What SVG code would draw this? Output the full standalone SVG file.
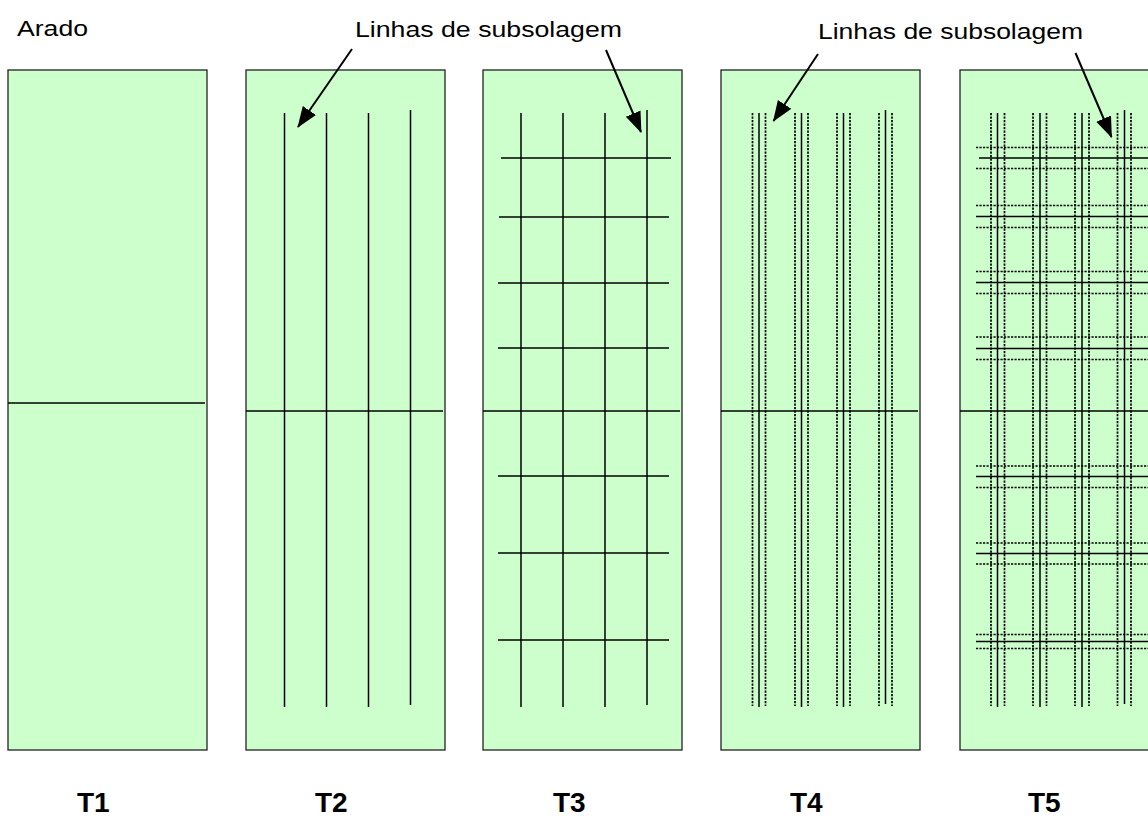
<svg xmlns="http://www.w3.org/2000/svg" width="1148" height="819" viewBox="0 0 1148 819">
  <style>
    .plot { fill: #CCFFCC; stroke: #222; stroke-width: 1.3; }
    .line { stroke: #000; stroke-width: 1.5; fill: none; }
    .dash { stroke: #000; stroke-width: 1.7; fill: none; stroke-dasharray: 2.2 1.3; }
    .lbl { font-family: "Liberation Sans", Arial, sans-serif; font-size: 22px; fill: #000; }
    .tag { font-family: "Liberation Sans", Arial, sans-serif; font-size: 28px; font-weight: bold; fill: #000; }
    .arrow { stroke: #000; stroke-width: 2; fill: none; marker-end: url(#head); }
  </style>
  <defs>
    <marker id="head" markerUnits="userSpaceOnUse" markerWidth="22" markerHeight="18" refX="20" refY="8" orient="auto">
      <path d="M0,0 L21,8 L0,16 Z" fill="#000"/>
    </marker>
  </defs>
  <rect width="1148" height="819" fill="#fff"/>

  <text class="lbl" x="17" y="36" textLength="71" lengthAdjust="spacingAndGlyphs">Arado</text>
  <text class="lbl" x="355" y="37" textLength="267" lengthAdjust="spacingAndGlyphs">Linhas de subsolagem</text>
  <text class="lbl" x="818" y="39" textLength="265" lengthAdjust="spacingAndGlyphs">Linhas de subsolagem</text>

  <!-- T1: plough only -->
  <g id="t1">
    <rect class="plot" x="8" y="70" width="199" height="680"/>
    <line class="line" x1="8" y1="403" x2="205" y2="403"/>
    <text class="tag" x="77" y="812">T1</text>
  </g>

  <!-- T2: single subsoiling lines -->
  <g id="t2">
    <rect class="plot" x="246" y="70" width="199" height="680"/>
    <line class="line" x1="246" y1="411" x2="443" y2="411"/>
    <line class="line" x1="284.5" y1="113" x2="284.5" y2="707"/>
    <line class="line" x1="326.5" y1="113" x2="326.5" y2="707"/>
    <line class="line" x1="368.5" y1="113" x2="368.5" y2="707"/>
    <line class="line" x1="410.5" y1="110" x2="410.5" y2="705"/>
    <text class="tag" x="315" y="812">T2</text>
  </g>

  <!-- T3: crossed subsoiling grid -->
  <g id="t3">
    <rect class="plot" x="483" y="70" width="199" height="680"/>
    <line class="line" x1="483" y1="411" x2="680" y2="411"/>
    <line class="line" x1="521" y1="113" x2="521" y2="707"/>
    <line class="line" x1="563" y1="113" x2="563" y2="707"/>
    <line class="line" x1="605" y1="113" x2="605" y2="707"/>
    <line class="line" x1="647" y1="110" x2="647" y2="705"/>
    <line class="line" x1="501" y1="158" x2="671" y2="158"/>
    <line class="line" x1="499" y1="217" x2="669" y2="217"/>
    <line class="line" x1="498" y1="283" x2="669" y2="283"/>
    <line class="line" x1="498" y1="348" x2="669" y2="348"/>
    <line class="line" x1="498" y1="476" x2="669" y2="476"/>
    <line class="line" x1="498" y1="553" x2="669" y2="553"/>
    <line class="line" x1="498" y1="640" x2="669" y2="640"/>
    <text class="tag" x="553" y="812">T3</text>
  </g>

  <!-- T4: subsoiling lines with dotted side bands -->
  <g id="t4">
    <rect class="plot" x="721" y="70" width="199" height="680"/>
    <line class="line" x1="721" y1="411" x2="918" y2="411"/>
    <line class="dash" x1="752.5" y1="113" x2="752.5" y2="706"/>
    <line class="line" x1="759" y1="113" x2="759" y2="707"/>
    <line class="dash" x1="765.5" y1="113" x2="765.5" y2="706"/>
    <line class="dash" x1="795" y1="113" x2="795" y2="706"/>
    <line class="line" x1="801.5" y1="113" x2="801.5" y2="707"/>
    <line class="dash" x1="808" y1="113" x2="808" y2="706"/>
    <line class="dash" x1="837" y1="113" x2="837" y2="706"/>
    <line class="line" x1="843.5" y1="113" x2="843.5" y2="707"/>
    <line class="dash" x1="850" y1="113" x2="850" y2="706"/>
    <line class="dash" x1="879" y1="113" x2="879" y2="706"/>
    <line class="line" x1="885.5" y1="110" x2="885.5" y2="704"/>
    <line class="dash" x1="892" y1="113" x2="892" y2="706"/>
    <text class="tag" x="790" y="812">T4</text>
  </g>

  <!-- T5: crossed grid with dotted side bands -->
  <g id="t5">
    <rect class="plot" x="960" y="70" width="200" height="680"/>
    <line class="line" x1="960" y1="411" x2="1148" y2="411"/>
    <line class="dash" x1="991" y1="113" x2="991" y2="706"/>
    <line class="line" x1="997.5" y1="113" x2="997.5" y2="707"/>
    <line class="dash" x1="1004.5" y1="113" x2="1004.5" y2="706"/>
    <line class="dash" x1="1033" y1="113" x2="1033" y2="706"/>
    <line class="line" x1="1040" y1="113" x2="1040" y2="707"/>
    <line class="dash" x1="1046.5" y1="113" x2="1046.5" y2="706"/>
    <line class="dash" x1="1075" y1="113" x2="1075" y2="706"/>
    <line class="line" x1="1082" y1="113" x2="1082" y2="707"/>
    <line class="dash" x1="1089" y1="113" x2="1089" y2="706"/>
    <line class="dash" x1="1117.5" y1="113" x2="1117.5" y2="706"/>
    <line class="line" x1="1124.5" y1="110" x2="1124.5" y2="704"/>
    <line class="dash" x1="1131" y1="113" x2="1131" y2="706"/>

    <line class="dash" x1="976" y1="147.5" x2="1148" y2="147.5"/>
    <line class="line" x1="979" y1="158" x2="1148" y2="158"/>
    <line class="dash" x1="976" y1="168.5" x2="1148" y2="168.5"/>
    <line class="dash" x1="976" y1="205.5" x2="1148" y2="205.5"/>
    <line class="line" x1="976" y1="216.5" x2="1148" y2="216.5"/>
    <line class="dash" x1="976" y1="227.5" x2="1148" y2="227.5"/>
    <line class="dash" x1="976" y1="271.5" x2="1148" y2="271.5"/>
    <line class="line" x1="976" y1="282.5" x2="1148" y2="282.5"/>
    <line class="dash" x1="976" y1="293.5" x2="1148" y2="293.5"/>
    <line class="dash" x1="976" y1="337" x2="1148" y2="337"/>
    <line class="line" x1="976" y1="348.5" x2="1148" y2="348.5"/>
    <line class="dash" x1="976" y1="359.5" x2="1148" y2="359.5"/>
    <line class="dash" x1="976" y1="466" x2="1148" y2="466"/>
    <line class="line" x1="976" y1="476.5" x2="1148" y2="476.5"/>
    <line class="dash" x1="976" y1="487.5" x2="1148" y2="487.5"/>
    <line class="dash" x1="976" y1="543" x2="1148" y2="543"/>
    <line class="line" x1="976" y1="553.5" x2="1148" y2="553.5"/>
    <line class="dash" x1="976" y1="564" x2="1148" y2="564"/>
    <line class="dash" x1="976" y1="634.5" x2="1148" y2="634.5"/>
    <line class="line" x1="976" y1="641.5" x2="1148" y2="641.5"/>
    <line class="dash" x1="976" y1="648.5" x2="1148" y2="648.5"/>
    <text class="tag" x="1028" y="812">T5</text>
  </g>

  <!-- pointers from the captions to the subsoiling lines -->
  <g id="connectors">
    <line class="arrow" x1="352" y1="49" x2="298" y2="127"/>
    <line class="arrow" x1="606" y1="50" x2="641" y2="132"/>
    <line class="arrow" x1="818" y1="54" x2="773.5" y2="121"/>
    <line class="arrow" x1="1075.5" y1="53" x2="1111.5" y2="137"/>
  </g>
</svg>
